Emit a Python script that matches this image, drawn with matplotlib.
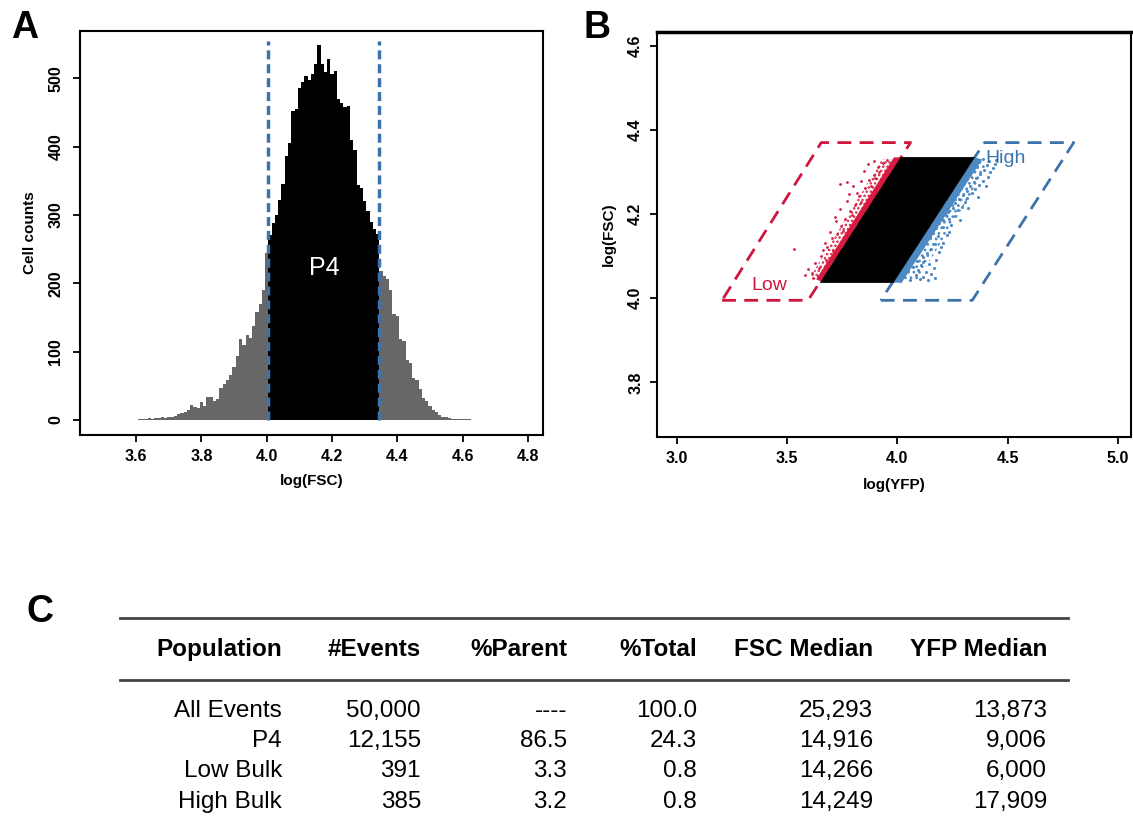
import numpy as np
import matplotlib.pyplot as plt

plt.rcParams['font.family'] = ['Liberation Sans', 'DejaVu Sans']
plt.rcParams['hatch.linewidth'] = 1.2

# --- panel A: FSC histogram (bin centres, width 0.01) ---
fsc_bins = np.round(np.arange(3.61, 4.625, 0.01), 2)
cell_counts = [1, 2, 2, 3, 2, 3, 3, 4, 3, 4,
               5, 6, 8, 10, 12, 15, 22, 19, 17, 26,
               21, 34, 33, 28, 31, 47, 52, 58, 66, 78,
               93, 118, 110, 125, 120, 138, 158, 170, 190, 244,
               271, 288, 300, 322, 345, 386, 405, 452, 455, 485,
               495, 503, 497, 506, 521, 548, 521, 509, 528, 506,
               510, 470, 463, 458, 460, 410, 395, 343, 340, 320,
               305, 290, 280, 272, 218, 210, 206, 190, 155, 152,
               118, 115, 87, 84, 62, 58, 46, 32, 28, 21,
               14, 12, 7, 5, 4, 3, 2, 2, 1, 1, 1, 1]
p4_gate = [4.005, 4.345]

# --- panel B: YFP vs FSC ---
bulk_yfp = [3.651, 3.981, 4.350, 4.017]
bulk_fsc = [4.037, 4.037, 4.335, 4.335]
low_band_yfp = [3.632, 3.653, 4.017, 3.985]
low_band_fsc = [4.045, 4.040, 4.335, 4.335]
low_haze_yfp = [3.605, 3.640, 3.990, 3.930]
low_haze_fsc = [4.050, 4.045, 4.330, 4.330]
low_events = [(3.53, 4.117), (3.74, 4.272), (3.77, 4.276), (3.80, 4.268),
              (3.612, 4.061), (3.628, 4.083), (3.596, 4.069), (3.655, 4.101),
              (3.681, 4.122), (3.702, 4.143), (3.726, 4.152), (3.671, 4.131),
              (3.744, 4.172), (3.762, 4.188), (3.718, 4.193), (3.786, 4.207),
              (3.806, 4.221), (3.771, 4.232), (3.828, 4.243), (3.852, 4.262),
              (3.815, 4.251), (3.873, 4.281), (3.893, 4.292), (3.851, 4.303),
              (3.912, 4.311), (3.934, 4.322), (3.896, 4.326), (3.641, 4.052),
              (3.676, 4.091), (3.708, 4.112), (3.752, 4.161), (3.795, 4.198),
              (3.837, 4.229), (3.879, 4.268), (3.917, 4.301), (3.617, 4.049),
              (3.643, 4.071), (3.583, 4.056), (3.722, 4.183), (3.836, 4.279),
              (3.661, 4.114), (3.694, 4.158), (3.739, 4.211), (3.781, 4.247),
              (3.866, 4.319), (3.952, 4.328), (3.901, 4.287), (3.688, 4.077)]
high_band_yfp = [3.981, 4.020, 4.385, 4.350]
high_band_fsc = [4.037, 4.037, 4.330, 4.335]
high_haze_yfp = [3.995, 4.090, 4.420, 4.350]
high_haze_fsc = [4.040, 4.040, 4.320, 4.330]
high_events = [(4.012, 4.041), (4.058, 4.043), (4.101, 4.046), (4.137, 4.044), (4.172, 4.048),
               (4.029, 4.052), (4.083, 4.055), (4.118, 4.051), (4.154, 4.058),
               (4.006, 4.061), (4.047, 4.064), (4.092, 4.067), (4.131, 4.063),
               (4.034, 4.072), (4.071, 4.075), (4.109, 4.078), (4.165, 4.071),
               (4.045, 4.083), (4.088, 4.089), (4.142, 4.082), (4.061, 4.094),
               (4.118, 4.097), (4.176, 4.092), (4.052, 4.101), (4.079, 4.104),
               (4.133, 4.107), (4.068, 4.112), (4.097, 4.115), (4.152, 4.118),
               (4.189, 4.111), (4.083, 4.123), (4.116, 4.126), (4.169, 4.129),
               (4.094, 4.134), (4.131, 4.137), (4.205, 4.131), (4.108, 4.142),
               (4.149, 4.145), (4.183, 4.148), (4.121, 4.153), (4.162, 4.156),
               (4.224, 4.151), (4.139, 4.163), (4.176, 4.166), (4.208, 4.169),
               (4.152, 4.172), (4.243, 4.175), (4.191, 4.178), (4.165, 4.183),
               (4.207, 4.186), (4.236, 4.189), (4.178, 4.192), (4.262, 4.195),
               (4.219, 4.198), (4.191, 4.203), (4.229, 4.206), (4.274, 4.209),
               (4.208, 4.212), (4.251, 4.215), (4.292, 4.218), (4.221, 4.223),
               (4.262, 4.226), (4.305, 4.229), (4.243, 4.232), (4.281, 4.236),
               (4.318, 4.239), (4.259, 4.243), (4.297, 4.246), (4.339, 4.249),
               (4.271, 4.253), (4.318, 4.256), (4.352, 4.259), (4.288, 4.263),
               (4.331, 4.266), (4.372, 4.269), (4.302, 4.273), (4.347, 4.276),
               (4.389, 4.279), (4.318, 4.283), (4.358, 4.286), (4.412, 4.289),
               (4.331, 4.293), (4.377, 4.296), (4.421, 4.299), (4.348, 4.303),
               (4.392, 4.306), (4.436, 4.309), (4.361, 4.313), (4.405, 4.316),
               (4.443, 4.319), (4.372, 4.323), (4.418, 4.326), (4.447, 4.329),
               (4.389, 4.332), (4.233, 4.157), (4.115, 4.086), (4.196, 4.122),
               (4.286, 4.187), (4.322, 4.214), (4.365, 4.241), (4.403, 4.268)]
low_gate_yfp = [3.205, 3.595, 4.060, 3.655, 3.205]
low_gate_fsc = [3.995, 3.995, 4.370, 4.370, 3.995]
high_gate_yfp = [3.925, 4.340, 4.800, 4.395, 3.925]
high_gate_fsc = [3.995, 3.995, 4.370, 4.370, 3.995]

# --- panel C: table ---
headers = ['Population', '#Events', '%Parent', '%Total', 'FSC Median', 'YFP Median']
rows = [['All Events', '50,000', '----', '100.0', '25,293', '13,873'],
        ['P4', '12,155', '86.5', '24.3', '14,916', '9,006'],
        ['Low Bulk', '391', '3.3', '0.8', '14,266', '6,000'],
        ['High Bulk', '385', '3.2', '0.8', '14,249', '17,909']]

GREY = '#676767'
GATE_BLUE = '#3d73ad'
GATE_RED = '#d0163f'
PT_RED = '#d81b40'
PT_BLUE = '#4d89c2'
W, H = 1133, 838

fig = plt.figure(figsize=(11.33, 8.38), dpi=100)

def style_axis(ax):
    for s in ax.spines.values():
        s.set_linewidth(1.5)
    ax.tick_params(direction='out', length=5, width=1.3, labelsize=11.5, pad=5)
    for lbl in ax.get_xticklabels() + ax.get_yticklabels():
        lbl.set_fontweight('bold')
    for lbl in ax.get_yticklabels():
        lbl.set_rotation(90)
        lbl.set_va('center')

# panel A
axA = fig.add_axes([80 / W, 1 - 435 / H, 463 / W, 404 / H])
edges = np.append(fsc_bins - 0.005, fsc_bins[-1] + 0.005)
counts = np.array(cell_counts)
axA.stairs(counts, edges, fill=True, color=GREY)
in_p4 = (fsc_bins > p4_gate[0]) & (fsc_bins < p4_gate[1])
idx = np.where(in_p4)[0]
axA.stairs(counts[idx], edges[idx[0]:idx[-1] + 2], fill=True, color='black')
axA.vlines(p4_gate, 0, 555, colors=GATE_BLUE, linestyles=(0, (2.6, 1.4)), linewidth=2.5)
axA.text(4.177, 223, 'P4', color='white', fontsize=18, ha='center', va='center')
axA.set_xlim(3.428, 4.846)
axA.set_ylim(-22, 569)
axA.set_xticks([3.6, 3.8, 4.0, 4.2, 4.4, 4.6, 4.8])
axA.set_yticks([0, 100, 200, 300, 400, 500])
axA.set_xlabel('log(FSC)', fontsize=11, fontweight='bold', labelpad=7)
axA.set_ylabel('Cell counts', fontsize=11, fontweight='bold', labelpad=8)
style_axis(axA)
axA.tick_params(axis='y', pad=7)

# panel B
axB = fig.add_axes([657 / W, 1 - 437 / H, 474 / W, 405 / H])
axB.plot(low_gate_yfp, low_gate_fsc, color=GATE_RED, linestyle=(0, (5, 3)), linewidth=2, zorder=1)
axB.plot(high_gate_yfp, high_gate_fsc, color=GATE_BLUE, linestyle=(0, (5, 3)), linewidth=2, zorder=1)
axB.fill(low_haze_yfp, low_haze_fsc, facecolor='none', edgecolor=PT_RED,
         hatch='....', linewidth=0, zorder=2)
axB.fill(high_haze_yfp, high_haze_fsc, facecolor='none', edgecolor=PT_BLUE,
         hatch='...', linewidth=0, zorder=2)
axB.fill(low_band_yfp, low_band_fsc, color=PT_RED, linewidth=0, zorder=2)
axB.fill(high_band_yfp, high_band_fsc, color=PT_BLUE, linewidth=0, zorder=2)
axB.scatter([p[0] for p in low_events], [p[1] for p in low_events],
            s=4, color=PT_RED, linewidths=0, zorder=2)
axB.scatter([p[0] for p in high_events], [p[1] for p in high_events],
            s=5, color=PT_BLUE, linewidths=0, zorder=2)
axB.fill(bulk_yfp, bulk_fsc, color='black', linewidth=0.5, edgecolor='black', zorder=3)
axB.text(3.42, 4.031, 'Low', color=GATE_RED, fontsize=14, ha='center', va='center')
axB.text(4.49, 4.333, 'High', color=GATE_BLUE, fontsize=14, ha='center', va='center')
axB.set_xlim(2.91, 5.06)
axB.set_ylim(3.67, 4.633)
axB.set_xticks([3.0, 3.5, 4.0, 4.5, 5.0])
axB.set_yticks([3.8, 4.0, 4.2, 4.4, 4.6])
axB.set_xlabel('log(YFP)', fontsize=11, fontweight='bold', labelpad=9)
axB.set_ylabel('log(FSC)', fontsize=11, fontweight='bold', labelpad=9)
style_axis(axB)
axB.spines['top'].set_linewidth(2.5)

# panel letters
fig.text(25 / W, 1 - 28 / H, 'A', fontsize=27, fontweight='bold', ha='center', va='center')
fig.text(597 / W, 1 - 28 / H, 'B', fontsize=27, fontweight='bold', ha='center', va='center')
fig.text(40 / W, 1 - 612 / H, 'C', fontsize=27, fontweight='bold', ha='center', va='center')

# panel C table
axC = fig.add_axes([0, 0, 1, 1])
axC.set_xlim(0, W)
axC.set_ylim(H, 0)
axC.axis('off')
col_right = [282, 421, 567, 697, 873, 1047]
axC.plot([120, 1068], [618, 618], color='#444444', linewidth=2)
axC.plot([120, 1068], [680, 680], color='#444444', linewidth=2)
for x, h in zip(col_right, headers):
    axC.text(x, 649, h, fontsize=17.5, fontweight='bold', ha='right', va='center')
row_y = [711, 741, 771, 802]
for y, row in zip(row_y, rows):
    for x, v in zip(col_right, row):
        axC.text(x, y, v, fontsize=17.5, ha='right', va='center')

fig.savefig('out.png', dpi=100)
